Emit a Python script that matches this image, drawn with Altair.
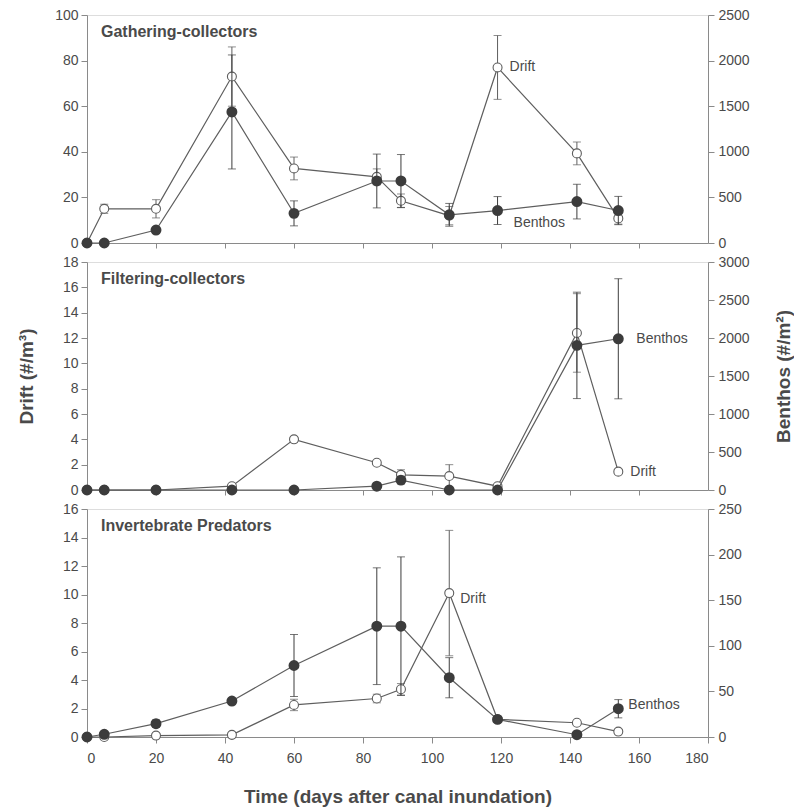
import altair as alt
import pandas as pd

days = [0, 5, 20, 42, 60, 84, 91, 105, 119, 142, 154]

# Gathering-collectors
gc_drift = [0, 15, 15, 73, 32.7, 29, 18.5, 12, 77, 39.3, 10.8]
gc_drift_err = [0, 2, 4, 13, 5, 3.5, 3, 4, 14, 5, 2.5]
gc_benthos = [0, 0, 142, 1437, 325, 680, 680, 309, 356, 454, 356]
gc_benthos_err = [0, 0, 0, 625, 137, 295, 290, 125, 153, 190, 155]

# Filtering-collectors
fc_drift = [0, 0, 0, 0.3, 4.0, 2.15, 1.2, 1.1, 0.3, 12.4, 1.45]
fc_drift_err = [0, 0, 0, 0.1, 0.2, 0.15, 0.4, 0.9, 0.1, 3.1, 0.1]
fc_benthos = [0, 0, 0, 0, 0, 50, 130, 0, 0, 1903, 1990]
fc_benthos_err = [0, 0, 0, 0, 0, 0, 50, 0, 0, 700, 790]

# Invertebrate Predators
ip_drift = [0, 0, 0.1, 0.15, 2.25, 2.7, 3.35, 10.1, 1.24, 1.0, 0.38]
ip_drift_err = [0, 0, 0.1, 0.1, 0.4, 0.3, 0.4, 4.4, 0.1, 0.1, 0.1]
ip_benthos = [0, 3, 14.6, 39.4, 78.4, 121.5, 121.5, 65, 19.3, 2.5, 31]
ip_benthos_err = [0, 0, 4, 0, 34, 64, 76, 22, 0, 0, 10]

FONT = "Liberation Sans"
LINE = "#5e5e5e"
DARK = "#3c3c3c"
AXC = "#8a8a8a"
TXT = "#4a4a4a"


def panel(title, drift, drift_err, benthos, benthos_err,
          ldom, lstep, rdom, rstep, bottom, ltitle, rtitle, labels):
    df = pd.DataFrame({
        "day": days,
        "drift": drift,
        "drift_err": drift_err,
        "drift_lo": [v - e for v, e in zip(drift, drift_err)],
        "drift_hi": [v + e for v, e in zip(drift, drift_err)],
        "benthos": benthos,
        "benthos_err": benthos_err,
        "benthos_lo": [v - e for v, e in zip(benthos, benthos_err)],
        "benthos_hi": [v + e for v, e in zip(benthos, benthos_err)],
    })
    base = alt.Chart(df)

    if bottom:
        xaxis = alt.Axis(values=list(range(0, 181, 20)), labelFontSize=14,
                         labelColor=TXT, tickSize=6, tickColor=AXC, domainColor=AXC,
                         grid=False, title="Time (days after canal inundation)",
                         titleFontSize=19, titleFontWeight="bold", titleColor=TXT,
                         titlePadding=22, labelPadding=8)
    else:
        xaxis = alt.Axis(values=list(range(20, 161, 20)), labels=False,
                         tickSize=5, tickColor=AXC, domainColor=AXC, grid=False,
                         title=None)
    x = alt.X("day:Q", scale=alt.Scale(domain=[0, 180], nice=False), axis=xaxis)

    lvals = list(range(ldom[0], ldom[1] + 1, lstep))
    rvals = list(range(rdom[0], rdom[1] + 1, rstep))
    laxis = alt.Axis(orient="left", values=lvals, format="d", labelFontSize=14,
                     labelColor=TXT, tickSize=6, tickColor=AXC, domainColor=AXC,
                     grid=False, labelPadding=3, title=ltitle, titleFontSize=19,
                     titleFontWeight="bold", titleColor=TXT, titlePadding=26)
    raxis = alt.Axis(orient="right", values=rvals, format="d", labelFontSize=14,
                     labelColor=TXT, tickSize=6, tickColor=AXC, domainColor=AXC,
                     grid=False, labelPadding=4, title=rtitle, titleFontSize=19,
                     titleFontWeight="bold", titleColor=TXT, titlePadding=44,
                     titleAngle=270)
    lscale = alt.Scale(domain=list(ldom), nice=False)
    rscale = alt.Scale(domain=list(rdom), nice=False)

    yd = alt.Y("drift:Q", scale=lscale, axis=laxis)
    yb = alt.Y("benthos:Q", scale=rscale, axis=raxis)

    d_line = base.mark_line(color=LINE, strokeWidth=1.2).encode(x=x, y=yd)
    d_err = base.transform_filter("datum.drift_err > 0").mark_rule(
        color=LINE, strokeWidth=1).encode(
        x=x, y=alt.Y("drift_lo:Q", scale=lscale, axis=laxis), y2="drift_hi:Q")
    d_cap1 = base.transform_filter("datum.drift_err > 0").mark_tick(
        orient="horizontal", size=8, thickness=1, color=LINE).encode(
        x=x, y=alt.Y("drift_lo:Q", scale=lscale, axis=laxis))
    d_cap2 = base.transform_filter("datum.drift_err > 0").mark_tick(
        orient="horizontal", size=8, thickness=1, color=LINE).encode(
        x=x, y=alt.Y("drift_hi:Q", scale=lscale, axis=laxis))
    d_pts = base.mark_point(shape="circle", size=80, filled=True, fill="white",
                            stroke=LINE, strokeWidth=1.1, opacity=1).encode(x=x, y=yd)

    b_line = base.mark_line(color=LINE, strokeWidth=1.2).encode(x=x, y=yb)
    b_err = base.transform_filter("datum.benthos_err > 0").mark_rule(
        color=DARK, strokeWidth=1).encode(
        x=x, y=alt.Y("benthos_lo:Q", scale=rscale, axis=raxis), y2="benthos_hi:Q")
    b_cap1 = base.transform_filter("datum.benthos_err > 0").mark_tick(
        orient="horizontal", size=8, thickness=1, color=DARK).encode(
        x=x, y=alt.Y("benthos_lo:Q", scale=rscale, axis=raxis))
    b_cap2 = base.transform_filter("datum.benthos_err > 0").mark_tick(
        orient="horizontal", size=8, thickness=1, color=DARK).encode(
        x=x, y=alt.Y("benthos_hi:Q", scale=rscale, axis=raxis))
    b_pts = base.mark_point(shape="circle", size=80, filled=True, fill=DARK,
                            stroke=DARK, opacity=1).encode(x=x, y=yb)

    d_layers = [d_line, d_err, d_cap1, d_cap2, d_pts]
    b_layers = [b_line, b_err, b_cap1, b_cap2, b_pts]
    for series, day, text, dx, dy in labels:
        t = base.transform_filter(f"datum.day == {day}").mark_text(
            text=text, align="left", baseline="middle", dx=dx, dy=dy,
            font=FONT, fontSize=14, color=TXT)
        if series == "drift":
            d_layers.append(t.encode(x=x, y=yd))
        else:
            b_layers.append(t.encode(x=x, y=yb))

    ttl = alt.Chart(pd.DataFrame({"t": [title]})).mark_text(
        align="left", baseline="middle", font=FONT, fontSize=16,
        fontWeight="bold", color=TXT).encode(
        x=alt.value(14), y=alt.value(17), text="t:N")

    return alt.layer(alt.layer(*d_layers), alt.layer(*b_layers), ttl).resolve_scale(
        y="independent").properties(width=621, height=228)


p1 = panel("Gathering-collectors", gc_drift, gc_drift_err, gc_benthos, gc_benthos_err,
           (0, 100), 20, (0, 2500), 500, False, None, None,
           [("drift", 119, "Drift", 12, 0), ("benthos", 119, "Benthos", 16, 12)])
p2 = panel("Filtering-collectors", fc_drift, fc_drift_err, fc_benthos, fc_benthos_err,
           (0, 18), 2, (0, 3000), 500, False, "Drift (#/m³)", "Benthos (#/m²)",
           [("benthos", 154, "Benthos", 18, 0), ("drift", 154, "Drift", 12, 0)])
p3 = panel("Invertebrate Predators", ip_drift, ip_drift_err, ip_benthos, ip_benthos_err,
           (0, 16), 2, (0, 250), 50, True, None, None,
           [("drift", 105, "Drift", 11, 6), ("benthos", 154, "Benthos", 10, -4)])

chart = alt.vconcat(p1, p2, p3, spacing=19, bounds="flush").properties(
    padding={"left": 8, "top": -1, "right": 0, "bottom": 5}
).configure_view(stroke="#9a9a9a", strokeWidth=1).configure(font=FONT, background="white")

chart.save("out.html", embed_options={"renderer": "svg", "actions": False})
